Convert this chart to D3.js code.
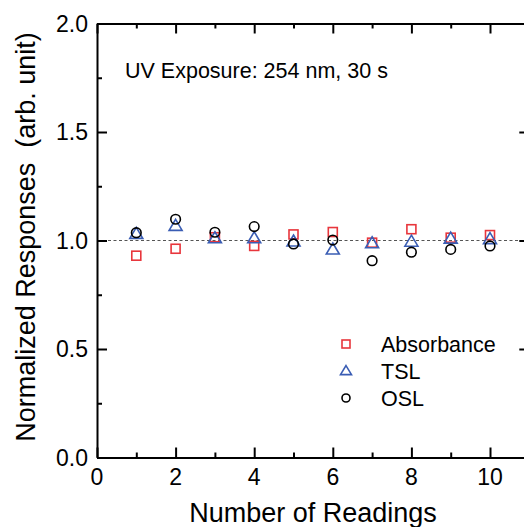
<!DOCTYPE html>
<html>
<head>
<meta charset="utf-8">
<script src="https://cdn.jsdelivr.net/npm/d3@7"></script>
<style>
  body { margin: 0; background: #fff; }
  svg { display: block; font-family: "Liberation Sans", Arial, sans-serif; }
</style>
</head>
<body>
<div id="chart"></div>
<script>
// readings and responses
var readings = [1, 2, 3, 4, 5, 6, 7, 8, 9, 10];
var absorbance = [0.93, 0.962, 1.015, 0.975, 1.028, 1.039, 0.99, 1.052, 1.013, 1.025];
var tsl = [1.03, 1.067, 1.01, 1.01, 0.995, 0.958, 0.987, 0.994, 1.008, 1.006];
var osl = [1.036, 1.098, 1.038, 1.064, 0.984, 1.002, 0.907, 0.946, 0.959, 0.975];
var xTicks = [0, 2, 4, 6, 8, 10];
var yTicks = [0.0, 0.5, 1.0, 1.5, 2.0];
var seriesNames = ["Absorbance", "TSL", "OSL"];

var W = 524, H = 527;
var red = "#e8363c", blue = "#3a5db4", black = "#000";

var svg = d3.select("#chart").append("svg")
    .attr("width", W).attr("height", H);

var x = d3.scaleLinear().domain([0, 11]).range([97, 529.3]);
var y = d3.scaleLinear().domain([0, 2]).range([457.5, 23.5]);

// reference line at 1.0
svg.append("line")
    .attr("x1", x(0)).attr("x2", x(11))
    .attr("y1", y(1)).attr("y2", y(1))
    .style("stroke", "#555").style("stroke-width", 1)
    .style("stroke-dasharray", "3,2.5");

//Axes with inward ticks
function frame(axis, tr) {
    var g = svg.append("g").attr("transform", tr).call(axis);
    g.select(".domain").style("stroke-width", 2);
    g.selectAll(".tick line").style("stroke-width", 2);
    g.selectAll("text").remove();
    return g;
}
var xMinor = d3.range(1, 11, 2);
var yMinor = [0.25, 0.75, 1.25, 1.75];

frame(d3.axisBottom(x).tickValues(xTicks.concat([11])).tickSizeInner(-10).tickSizeOuter(0), "translate(0," + y(0) + ")");
frame(d3.axisBottom(x).tickValues(xMinor).tickSizeInner(-5).tickSizeOuter(0), "translate(0," + y(0) + ")").select(".domain").remove();
frame(d3.axisTop(x).tickValues(xTicks).tickSizeInner(-10).tickSizeOuter(0), "translate(0," + y(2) + ")");
frame(d3.axisTop(x).tickValues(xMinor).tickSizeInner(-5).tickSizeOuter(0), "translate(0," + y(2) + ")").select(".domain").remove();
frame(d3.axisLeft(y).tickValues(yTicks).tickSizeInner(-10).tickSizeOuter(0), "translate(" + x(0) + ",0)");
frame(d3.axisLeft(y).tickValues(yMinor).tickSizeInner(-5).tickSizeOuter(0), "translate(" + x(0) + ",0)").select(".domain").remove();
frame(d3.axisRight(y).tickValues(yTicks).tickSizeInner(-10).tickSizeOuter(0), "translate(" + x(11) + ",0)");
frame(d3.axisRight(y).tickValues(yMinor).tickSizeInner(-5).tickSizeOuter(0), "translate(" + x(11) + ",0)").select(".domain").remove();

// tick labels
svg.selectAll(".xl").data(xTicks).enter().append("text")
    .attr("x", function(d){ return x(d); }).attr("y", 485)
    .attr("text-anchor", "middle").attr("font-size", 23)
    .text(function(d){ return d; });
svg.selectAll(".yl").data(yTicks).enter().append("text")
    .attr("x", 88).attr("y", function(d){ return y(d) + 8; })
    .attr("text-anchor", "end").attr("font-size", 23)
    .text(function(d){ return d.toFixed(1); });

// axis titles
svg.append("text").attr("x", 313).attr("y", 522)
    .attr("text-anchor", "middle").attr("font-size", 27)
    .text("Number of Readings");
svg.append("text")
    .attr("transform", "translate(35,237) rotate(-90)")
    .attr("text-anchor", "middle").attr("font-size", 27)
    .text("Normalized Responses\u00a0 (arb. unit)");

svg.append("text").attr("x", 125).attr("y", 78)
    .attr("font-size", 21.5)
    .text("UV Exposure: 254 nm, 30 s");

//Markers
function square(g, cx, cy, s, c) {
    g.append("rect").attr("x", cx - s/2).attr("y", cy - s/2)
        .attr("width", s).attr("height", s)
        .style("fill", "none").style("stroke", c).style("stroke-width", 1.6);
}
function tri(g, cx, cy, w, h, c) {
    g.append("path")
        .attr("d", "M" + cx + "," + (cy - h*0.6) + "L" + (cx + w/2) + "," + (cy + h*0.4) +
             "L" + (cx - w/2) + "," + (cy + h*0.4) + "Z")
        .style("fill", "none").style("stroke", c).style("stroke-width", 1.6)
        .style("stroke-linejoin", "miter");
}
function circ(g, cx, cy, r, c) {
    g.append("circle").attr("cx", cx).attr("cy", cy).attr("r", r)
        .style("fill", "none").style("stroke", c).style("stroke-width", 1.6);
}

var pts = svg.append("g");
readings.forEach(function(d, i){
    square(pts, x(d), y(absorbance[i]), 9, red);
});
readings.forEach(function(d, i){
    tri(pts, x(d), y(tsl[i]), 13, 11, blue);
});
readings.forEach(function(d, i){
    circ(pts, x(d), y(osl[i]), 4.8, black);
});

//Legend
var leg = svg.append("g");
var legY = [344, 371, 398];
square(leg, 346, legY[0], 8, red);
tri(leg, 346, legY[1], 11, 9, blue);
circ(leg, 346, legY[2], 4, black);
seriesNames.forEach(function(n, i){
    leg.append("text").attr("x", 381).attr("y", legY[i] + 8)
        .attr("font-size", 21.5).text(n);
});
</script>
</body>
</html>
